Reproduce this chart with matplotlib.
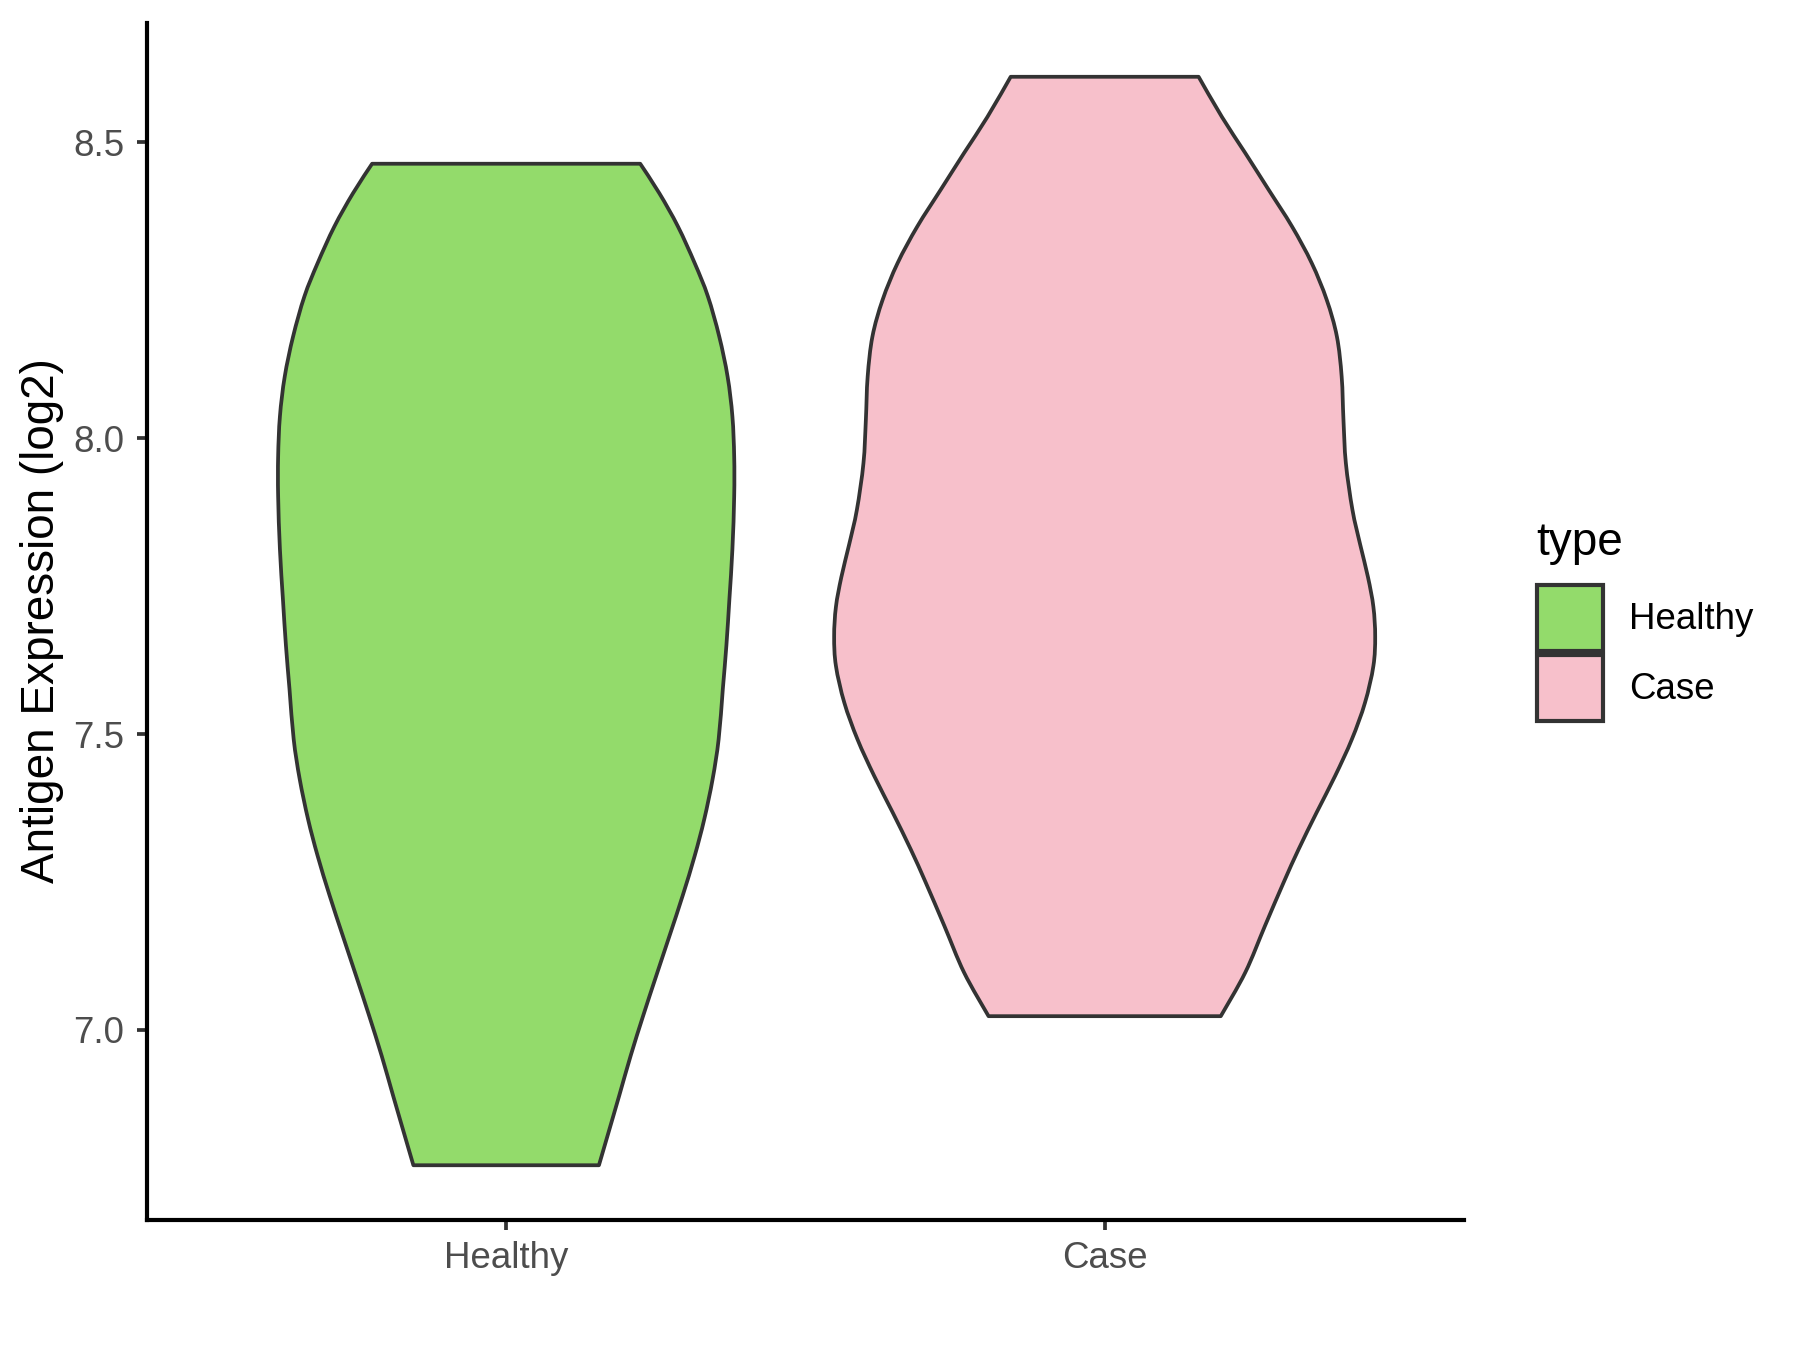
import numpy as np
import matplotlib.pyplot as plt
from matplotlib.patches import Patch, PathPatch
from matplotlib.path import Path

plt.rcParams['font.family'] = ['Liberation Sans', 'DejaVu Sans']

groups = ["Healthy", "Case"]
fill_colors = ["#93DB6B", "#F7C0CB"]

# violin outlines: expression level and half width (x units)
healthy_level = [6.771, 6.816, 6.889, 6.956, 7.024, 7.092, 7.159, 7.227, 7.294,
                 7.356, 7.424, 7.491, 7.576, 7.650, 7.728, 7.812, 7.902, 7.969,
                 8.037, 8.104, 8.172, 8.240, 8.296, 8.358, 8.414, 8.464]
healthy_half = [0.155, 0.168, 0.189, 0.208, 0.229, 0.251, 0.273, 0.295, 0.315,
                0.331, 0.345, 0.355, 0.362, 0.368, 0.373, 0.378, 0.381, 0.381,
                0.378, 0.370, 0.356, 0.337, 0.315, 0.287, 0.256, 0.224]

case_level = [7.023, 7.097, 7.176, 7.249, 7.305, 7.367, 7.429, 7.491, 7.553,
              7.615, 7.665, 7.715, 7.765, 7.820, 7.879, 7.958, 8.031, 8.104,
              8.172, 8.234, 8.296, 8.358, 8.420, 8.482, 8.543, 8.611]
case_half = [0.194, 0.235, 0.268, 0.299, 0.324, 0.354, 0.385, 0.413, 0.435,
             0.449, 0.452, 0.449, 0.440, 0.427, 0.414, 0.403, 0.399, 0.396,
             0.388, 0.371, 0.346, 0.313, 0.274, 0.235, 0.196, 0.157]

levels = [healthy_level, case_level]
halves = [healthy_half, case_half]

edge = "#333333"


def smooth_side(pts):
    # catmull-rom through the points, as cubic bezier segments
    p = np.vstack([pts[0], pts, pts[-1]])
    verts, codes = [], []
    for i in range(1, len(p) - 2):
        c1 = p[i] + (p[i + 1] - p[i - 1]) / 6
        c2 = p[i + 1] - (p[i + 2] - p[i]) / 6
        verts += [c1, c2, p[i + 1]]
        codes += [Path.CURVE4] * 3
    return verts, codes


def violin_path(pos, lv, hw):
    lv = np.array(lv)
    hw = np.array(hw)
    right = np.column_stack([pos + hw, lv])
    left = np.column_stack([pos - hw, lv])[::-1]
    verts = [right[0]]
    codes = [Path.MOVETO]
    v, c = smooth_side(right)
    verts += v
    codes += c
    verts.append(left[0])
    codes.append(Path.LINETO)
    v, c = smooth_side(left)
    verts += v
    codes += c
    verts.append(right[0])
    codes.append(Path.CLOSEPOLY)
    return Path(verts, codes)


fig = plt.figure(figsize=(6, 4.5), dpi=300)
ax = fig.add_axes([0.0817, 0.0961, 0.8132 - 0.0817, 0.983 - 0.0961])

for i, (lv, hw) in enumerate(zip(levels, halves)):
    ax.add_patch(PathPatch(violin_path(i + 1, lv, hw), facecolor=fill_colors[i],
                           edgecolor=edge, linewidth=0.9, joinstyle="round"))

ax.set_xlim(0.4, 2.6)
ax.set_ylim(6.678, 8.702)
ax.set_xticks([1, 2])
ax.set_xticklabels(groups)
ax.set_yticks([7.0, 7.5, 8.0, 8.5])
ax.set_yticklabels(["7.0", "7.5", "8.0", "8.5"])

for s in ["top", "right"]:
    ax.spines[s].set_visible(False)
for s in ["left", "bottom"]:
    ax.spines[s].set_linewidth(1.0)
    ax.spines[s].set_color("black")

ax.tick_params(axis="both", length=2.3, width=0.9, color=edge,
               labelsize=8.8, labelcolor="#4D4D4D")
ax.tick_params(axis="y", pad=3.2)
ax.tick_params(axis="x", pad=2.6)

fig.text(42.5 / 1800, 1 - 621 / 1350, "Antigen Expression (log2)", rotation=90,
         ha="center", va="center", fontsize=11, color="black")

# legend title placed by hand, keys through ax.legend
fig.text(1536 / 1800, 1 - 555 / 1350, "type", ha="left", va="baseline",
         fontsize=11, color="black")
handles = [Patch(facecolor=c, edgecolor=edge, linewidth=1.0, label=g)
           for c, g in zip(fill_colors, groups)]
leg = ax.legend(handles=handles, loc="center left",
                bbox_to_anchor=(1537 / 1800, 1 - 653 / 1350), bbox_transform=fig.transFigure,
                frameon=False, fontsize=8.8,
                handlelength=1.8, handleheight=2.39, handletextpad=0.7,
                labelspacing=0.1, borderpad=0, borderaxespad=0)

fig.savefig("out.png", dpi=300)
